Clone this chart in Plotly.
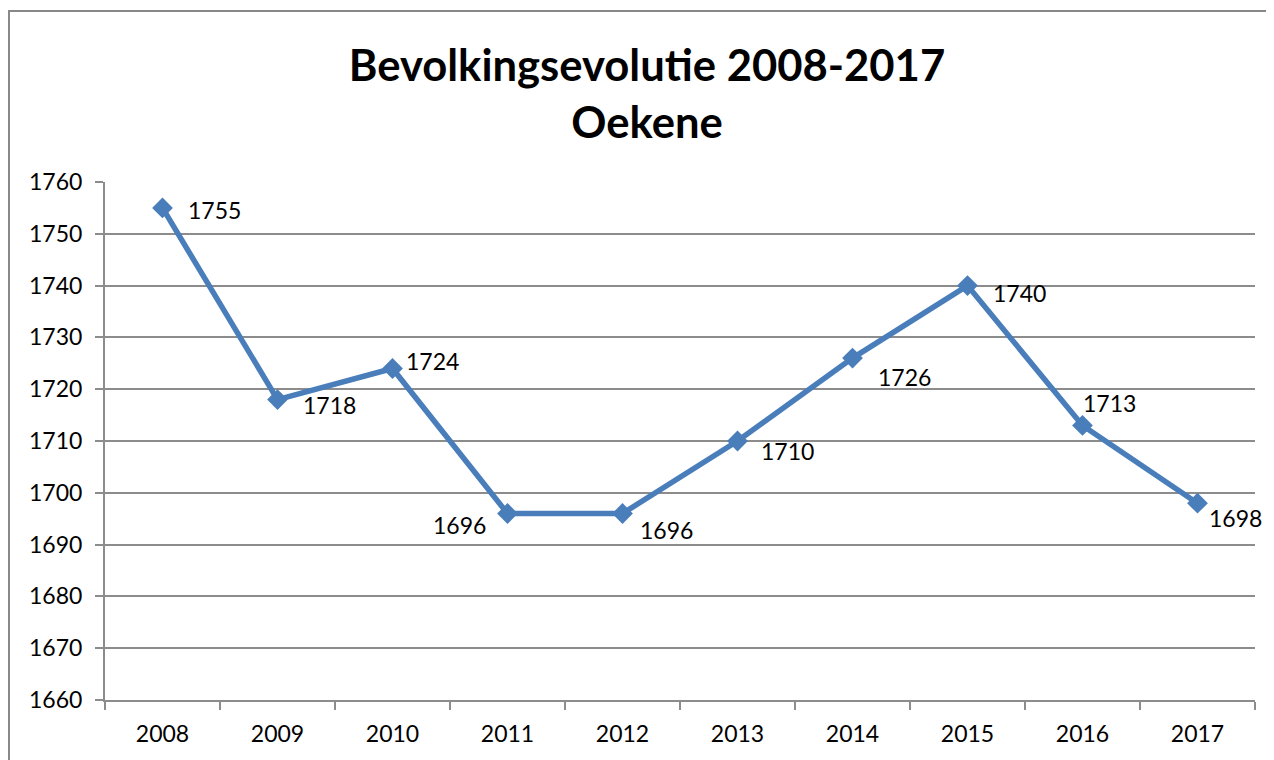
import plotly.graph_objects as go

years = ["2008", "2009", "2010", "2011", "2012", "2013", "2014", "2015", "2016", "2017"]
population = [1755, 1718, 1724, 1696, 1696, 1710, 1726, 1740, 1713, 1698]
title_lines = ["Bevolkingsevolutie 2008-2017", "Oekene"]

# label offsets in pixels (style only)
label_dx = [52, 52, 40, -48, 44, 50, 52, 52, 27, 38]
label_dy = [-2, -5, 7, -11, -16, -10, -19, -7, 22, -15]

FONT = "Lato"
LINE = "#4a7ebb"
GRID = "#8c8c8c"
OFF = 8  # browser body margin

fig = go.Figure()
fig.add_trace(go.Scatter(
    x=years, y=population, mode="lines+markers",
    line=dict(color=LINE, width=5.5),
    marker=dict(symbol="diamond", size=16, color=LINE),
    hoverinfo="skip", showlegend=False,
))

for i, (val, dx, dy) in enumerate(zip(population, label_dx, label_dy)):
    fig.add_annotation(x=i, y=val, text=str(val), showarrow=False,
                       xshift=dx, yshift=dy,
                       font=dict(family=FONT, size=23, color="#000000"))

fig.add_shape(type="rect", xref="paper", yref="paper",
              x0=-0.0835, x1=1.03, y0=-0.2, y1=1.330,
              line=dict(color="#888888", width=2), layer="below")

fig.update_layout(
    width=1274 - OFF, height=760 - OFF,
    margin=dict(l=105 - OFF, r=19, t=182 - OFF, b=60),
    paper_bgcolor="white", plot_bgcolor="white",
    title=dict(text="<b>" + "<br>".join(title_lines) + "</b>",
               x=(647 - OFF) / (1274 - OFF), xanchor="center", xref="container",
               y=1 - (81 - OFF) / (760 - OFF), yanchor="middle", yref="container",
               font=dict(family=FONT, size=43.6, color="#000000")),
    font=dict(family=FONT, size=23, color="#000000"),
)
fig.update_xaxes(type="category", range=[-0.5, 9.5], tickson="boundaries",
                 ticks="outside", ticklen=8, tickcolor=GRID, tickwidth=2,
                 showline=True, linecolor=GRID, linewidth=2,
                 showgrid=False, tickfont=dict(family=FONT, size=23),
                 ticklabelstandoff=12, fixedrange=True)
fig.update_yaxes(range=[1660, 1760], dtick=10, ticks="outside", ticklen=8,
                 tickcolor=GRID, tickwidth=2, showline=True, linecolor=GRID,
                 linewidth=2, showgrid=True, gridcolor=GRID, gridwidth=2,
                 zeroline=False, ticklabelstandoff=8,
                 tickfont=dict(family=FONT, size=23), fixedrange=True)

fig.write_html("out.html")
